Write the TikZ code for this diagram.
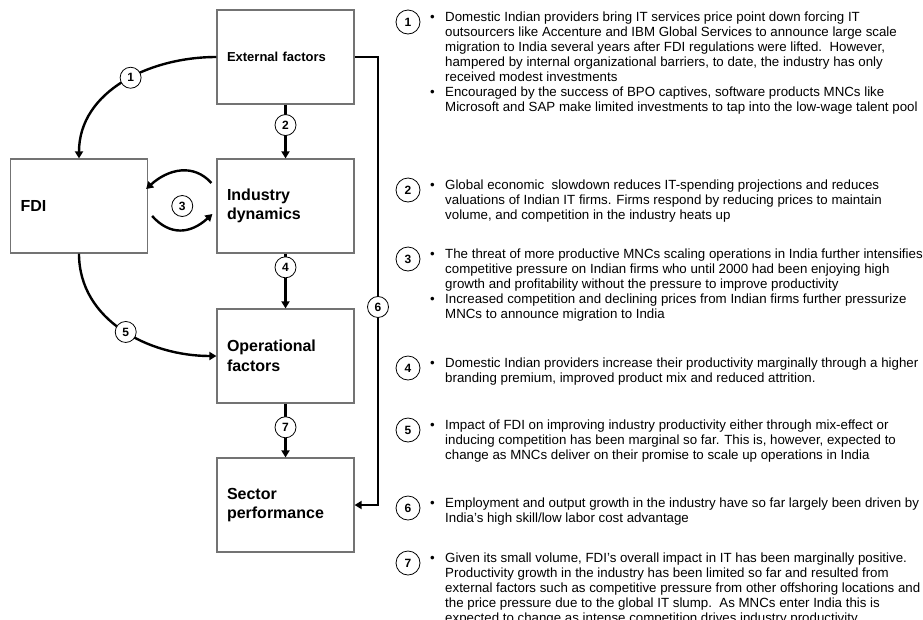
\documentclass[tikz,border=0pt]{standalone}
\usepackage{fontspec}
\setmainfont{Liberation Sans}
\usetikzlibrary{arrows.meta,calc,positioning}

\newcommand{\bulletitem}[1]{\par\hangindent=15pt\hangafter=1\noindent\makebox[15pt][l]{\textbullet}{\let\\\newline#1}}
\newcommand{\notetext}[1]{\parbox[t]{495pt}{\raggedright #1}}

\tikzset{
    x={1pt},
    y={-1pt},
    factor/.style={
        draw=black!55, line width={1.2pt},
        fill=white,
        minimum width={137pt}, minimum height={94pt},
        text width={117pt}, inner xsep={10pt},
        align=left,
        font={\bfseries\fontsize{16}{19.5}\selectfont},
    },
    flow/.style={
        line width={2.4pt},
        -{Triangle[length=7pt,width=8pt]},
    },
    tag/.style={
        circle, draw, fill=white,
        line width={0.8pt},
        inner sep=0pt, minimum size={21pt},
        font={\bfseries\fontsize{12}{12}\selectfont},
    },
    note tag/.style={
        tag, minimum size={24pt},
    },
    note/.style={
        inner sep=0pt,
        font={\fontsize{13.3}{15}\selectfont},
    },
}

\begin{document}
\begin{tikzpicture}
\useasboundingbox (0,0) rectangle (923,619);
% factors
\node[factor, font={\bfseries\fontsize{13}{15}\selectfont}] (ext) at (285.5,57) {External factors};
\node[factor] (fdi) at (79,206) {FDI};
\node[factor] (ind) at (285.5,206) {Industry\\dynamics};
\node[factor] (ops) at (285.5,356) {Operational\\factors};
\node[factor] (sec) at (285.5,505) {Sector\\performance};
% links
\coordinate (r6) at (378,0);
\coordinate (fwd3a) at ($(ind.west)+(-5,-23)$);
\coordinate (fwd3b) at ($(fdi.east)+(-2,-17)$);
\coordinate (back3a) at ($(fdi.east)+(4,10)$);
\coordinate (back3b) at ($(ind.west)+(-4,8)$);
\draw[flow] (ext.west) .. controls +(-67,0) and +(0,-67) .. node[tag,pos=.45] {1} (fdi.north);
\draw[flow] (ext) -- node[tag,pos=.38] {2} (ind);
\draw[flow] (fwd3a) .. controls +(-18,-20) and +(22,-20) .. (fwd3b);
\draw[flow] (back3a) .. controls +(18,20) and +(-22,20) .. (back3b);
\node[tag] (t3) at ($(fdi.east)!.5!(ind.west)$) {3};
\draw[flow] (ind) -- node[tag,pos=.25] {4} (ops);
\draw[flow] (fdi.south) .. controls +(0,67) and +(-67,0) .. node[tag,pos=.52] {5} (ops.west);
\draw[flow] (ext.east) -- (ext.east -| r6) -- node[tag,pos=.558] {6} (sec.east -| r6) -- (sec.east);
\draw[flow] (ops) -- node[tag,pos=.44] {7} (sec);
% notes
\node[note tag] (n1) at (408,22) {1};
\node[note, anchor=base west] (d1) at ($(n1.center)+(22,-0.5)$) {\notetext{%
\bulletitem{Domestic Indian providers bring IT services price point down forcing IT\\
outsourcers like Accenture and IBM Global Services to announce large scale\\
migration to India several years after FDI regulations were lifted.\ \ However,\\
hampered by internal organizational barriers, to date, the industry has only\\
received modest investments}
\bulletitem{Encouraged by the success of BPO captives, software products MNCs like\\
Microsoft and SAP make limited investments to tap into the low-wage talent pool}}};
\node[note tag] (n2) at (408,190) {2};
\node[note, anchor=base west] (d2) at ($(n2.center)+(22,-0.5)$) {\notetext{%
\bulletitem{Global economic\ \ slowdown reduces IT-spending projections and reduces\\
valuations of Indian IT firms. Firms respond by reducing prices to maintain\\
volume, and competition in the industry heats up}}};
\node[note tag] (n3) at (408,259) {3};
\node[note, anchor=base west] (d3) at ($(n3.center)+(22,-0.5)$) {\notetext{%
\bulletitem{The threat of more productive MNCs scaling operations in India further intensifies\\
competitive pressure on Indian firms who until 2000 had been enjoying high\\
growth and profitability without the pressure to improve productivity}
\bulletitem{Increased competition and declining prices from Indian firms further pressurize\\
MNCs to announce migration to India}}};
\node[note tag] (n4) at (408,368) {4};
\node[note, anchor=base west] (d4) at ($(n4.center)+(22,-0.5)$) {\notetext{%
\bulletitem{Domestic Indian providers increase their productivity marginally through a higher\\
branding premium, improved product mix and reduced attrition.}}};
\node[note tag] (n5) at (408,430) {5};
\node[note, anchor=base west] (d5) at ($(n5.center)+(22,-0.5)$) {\notetext{%
\bulletitem{Impact of FDI on improving industry productivity either through mix-effect or\\
inducing competition has been marginal so far. This is, however, expected to\\
change as MNCs deliver on their promise to scale up operations in India}}};
\node[note tag] (n6) at (408,508) {6};
\node[note, anchor=base west] (d6) at ($(n6.center)+(22,-0.5)$) {\notetext{%
\bulletitem{Employment and output growth in the industry have so far largely been driven by\\
India's high skill/low labor cost advantage}}};
\node[note tag] (n7) at (408,563) {7};
\node[note, anchor=base west] (d7) at ($(n7.center)+(22,-0.5)$) {\notetext{%
\bulletitem{Given its small volume, FDI's overall impact in IT has been marginally positive.\\
Productivity growth in the industry has been limited so far and resulted from\\
external factors such as competitive pressure from other offshoring locations and\\
the price pressure due to the global IT slump.\ \ As MNCs enter India this is\\
expected to change as intense competition drives industry productivity}}};
\end{tikzpicture}
\end{document}
